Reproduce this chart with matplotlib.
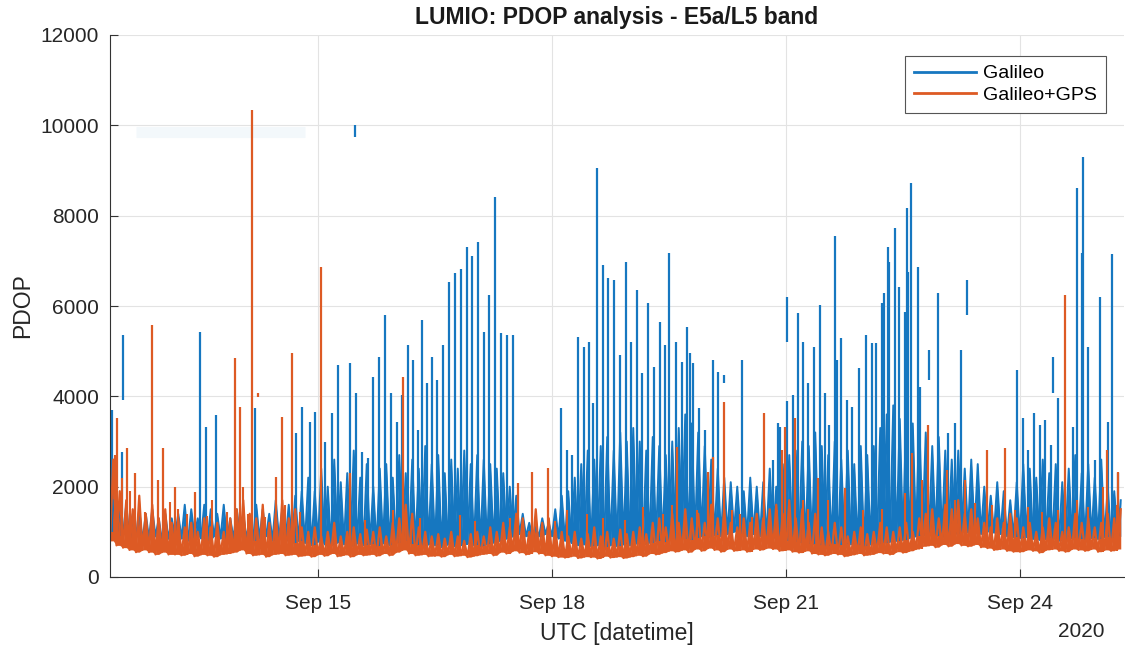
import numpy as np
import matplotlib
matplotlib.use('Agg')
import matplotlib.pyplot as plt
import matplotlib.dates as mdates

plt.rcParams['font.family'] = ['Liberation Sans', 'DejaVu Sans']

# time axis: hours after 2020-09-12 08:00 UTC, dense part kept as 2 h min/max bins
start = np.datetime64('2020-09-12T08:00')
span_hours = 312

# Galileo+GPS dense band (per 2 h bin: lower / upper edge)
gps_lo = [800, 700, 650, 600, 550, 600, 550, 500, 550, 500,
          500, 480, 520, 460, 500, 480, 450, 500, 520, 550,
          600, 520, 480, 500, 450, 500, 520, 480, 500, 460,
          480, 450, 500, 470, 520, 460, 490, 450, 500, 480,
          500, 470, 520, 480, 550, 600, 520, 480, 500, 460,
          470, 450, 500, 460, 480, 440, 470, 500, 520, 480,
          550, 520, 580, 540, 500, 560, 520, 480, 460, 440,
          430, 460, 420, 450, 440, 410, 460, 430, 450, 420,
          450, 480, 460, 520, 500, 540, 580, 560, 600, 550,
          620, 580, 640, 600, 560, 620, 580, 600, 560, 620,
          600, 640, 620, 580, 600, 560, 540, 580, 520, 500,
          480, 520, 500, 460, 490, 520, 480, 500, 540, 520,
          500, 560, 540, 580, 620, 680, 700, 660, 720, 680,
          740, 700, 680, 720, 660, 640, 600, 620, 580, 560,
          560, 600, 580, 540, 600, 620, 580, 560, 620, 600,
          580, 620, 560, 600, 580, 620]
gps_hi = [2600, 1900, 1700, 1500, 1800, 1400, 1600, 1300, 1500, 1200,
          1300, 1100, 1200, 1000, 1300, 1100, 1200, 1000, 1300, 1500,
          1700, 1400, 1300, 1600, 1200, 1400, 1700, 1300, 1500, 1100,
          1000, 1100, 900, 1000, 1200, 900, 1000, 1100, 950, 1050,
          1000, 1100, 900, 1200, 1300, 1600, 1400, 1100, 1000, 900,
          950, 850, 1000, 900, 800, 950, 1000, 900, 1100, 1000,
          1200, 1100, 1400, 1300, 1000, 1500, 1200, 1300, 1100, 1000,
          900, 1000, 850, 950, 1100, 900, 1000, 850, 1050, 950,
          1000, 1100, 950, 1200, 1300, 1100, 1400, 1200, 1500, 1300,
          1400, 1200, 1600, 1300, 1500, 1200, 1100, 1300, 1200, 1400,
          1300, 1500, 1600, 1400, 1700, 1300, 1500, 1200, 1400, 1100,
          1000, 1200, 1100, 900, 1000, 1100, 950, 1000, 1200, 1100,
          1000, 1100, 1200, 1000, 1300, 1400, 1500, 1300, 1600, 1500,
          1700, 1400, 1500, 1300, 1200, 1100, 1300, 1200, 1400, 1300,
          1100, 1200, 1000, 1100, 1300, 1200, 1000, 1100, 1400, 1200,
          1300, 1100, 1200, 1400, 1300, 1500]

# Galileo dense band
gal_lo = [1000, 900, 950, 850, 900, 800, 850, 900, 800, 850,
          900, 850, 800, 900, 850, 800, 900, 850, 800, 850,
          900, 850, 800, 850, 900, 800, 850, 800, 750, 800,
          750, 700, 780, 720, 700, 760, 720, 680, 740, 700,
          720, 680, 740, 700, 760, 800, 740, 700, 680, 720,
          700, 660, 720, 680, 700, 740, 700, 680, 720, 760,
          800, 850, 900, 950, 900, 850, 900, 950, 900, 850,
          800, 750, 700, 720, 680, 700, 660, 700, 680, 720,
          700, 740, 720, 760, 800, 780, 820, 800, 850, 820,
          860, 900, 880, 920, 900, 950, 1000, 950, 900, 950,
          900, 880, 860, 820, 800, 780, 760, 740, 720, 700,
          680, 720, 700, 740, 720, 700, 680, 720, 740, 760,
          780, 800, 820, 860, 900, 920, 950, 900, 880, 920,
          950, 1000, 980, 1000, 950, 1000, 980, 950, 900, 880,
          860, 880, 840, 820, 860, 840, 800, 820, 860, 840,
          820, 860, 840, 880, 860, 900]
gal_hi = [1700, 1500, 1600, 1400, 1500, 1400, 1500, 1300, 1400, 1300,
          1400, 1600, 1500, 1300, 1600, 1500, 1400, 1600, 1300, 1500,
          1400, 1300, 1600, 1500, 1400, 1700, 1500, 1600, 1800, 1900,
          2200, 1900, 2400, 2000, 2600, 2100, 2300, 2800, 2200, 2500,
          2000, 2400, 2500, 2200, 2700, 2300, 2600, 2400, 2900, 2500,
          2700, 2300, 2600, 2400, 2800, 2500, 2700, 2600, 2500, 2400,
          2300, 2000, 1800, 1400, 1200, 1100, 1300, 1200, 1500, 1800,
          1900, 2200, 2500, 2800, 2600, 2900, 3100, 2800, 3200, 3000,
          3300, 3000, 2800, 3100, 2900, 2700, 3000, 3300, 3600, 3400,
          3200, 2900, 2600, 2400, 2200, 2100, 2000, 1900, 2200, 2000,
          2100, 2400, 2000, 2500, 2700, 2800, 3000, 2900, 3200, 2900,
          2700, 3000, 2600, 2800, 2500, 2900, 2700, 2900, 3300, 3600,
          3800, 3500, 3700, 3400, 3500, 3200, 2900, 3100, 2800, 2600,
          2800, 2400, 2600, 2500, 2000, 1800, 2100, 1900, 1700, 2100,
          2500, 2400, 2200, 2600, 2300, 2500, 2100, 2400, 2700, 2300,
          2500, 2200, 2600, 2000, 1900, 1700]

# Galileo peaks: hour, PDOP at top
gal_peak_h = [0.6, 3.7, 27.7, 29.5, 32.6, 44.6, 57.2, 59.1, 61.5, 63.1,
              66.2, 68.3, 70.2, 73.8, 75.7, 77.5, 79.4, 80.9, 82.8, 84.6,
              86.5, 88.3, 89.8, 91.7, 93.2, 94.8, 96.0, 97.5, 99.1, 100.6,
              102.5, 104.3, 106.2, 108.0, 109.8, 111.4, 113.2, 115.1, 116.6, 118.5,
              120.3, 122.2, 124.0, 138.8, 140.6, 142.2, 144.0, 145.8, 147.4, 148.6,
              149.8, 151.7, 153.2, 155.1, 156.9, 158.8, 160.3, 162.2, 163.7, 165.5,
              167.4, 169.2, 170.8, 172.0, 174.2, 176.0, 177.5, 178.5, 179.4, 181.2,
              183.1, 185.5, 187.1, 194.5, 204.0, 205.5, 206.2, 208.3, 210.2, 211.7,
              213.2, 214.8, 216.6, 218.5, 220.0, 221.2, 223.1, 223.7, 224.9, 226.8,
              228.3, 230.5, 232.6, 234.5, 235.7, 237.5, 238.2, 239.4, 239.7, 241.5,
              242.8, 244.6, 245.2, 245.5, 246.5, 248.6, 249.2, 254.8, 257.8, 260.0,
              261.8, 279.1, 280.9, 282.5, 284.3, 286.2, 287.7, 289.5, 291.7, 296.3,
              297.5, 299.1, 299.4, 300.9, 303.1, 304.6, 307.1, 308.3, 310.2]
gal_peak = [3700, 2770, 5420, 3320, 3590, 3740, 3190, 3760, 3430, 3650,
            2990, 3630, 4690, 4740, 4070, 2770, 2630, 4430, 4870, 5800,
            4070, 3430, 4030, 5140, 4800, 3250, 5690, 4300, 4870, 4360,
            5140, 6530, 6730, 6820, 7300, 7110, 7420, 5420, 6240, 8410,
            5400, 5360, 5360, 3740, 2810, 2700, 5310, 5100, 5200, 3850,
            9050, 6910, 6620, 6580, 4910, 6980, 5200, 6350, 4520, 6070,
            4650, 5650, 5140, 7170, 5200, 4760, 5540, 4960, 4740, 3740,
            3250, 4800, 4540, 4800, 2600, 3400, 3320, 3900, 4030, 5840,
            5200, 4290, 5100, 6020, 4070, 3360, 7550, 4800, 5290, 3920,
            3760, 4630, 5360, 5180, 5180, 6060, 6290, 7310, 6980, 7730,
            6420, 5870, 8170, 6750, 8720, 6860, 4210, 6290, 3190, 3400,
            5030, 4580, 3520, 2810, 3630, 3360, 3470, 2920, 3960, 3320,
            8610, 7170, 9300, 5100, 2600, 6200, 3430, 7150, 2300]

# Galileo pieces that float above the band: hour, bottom, top
gal_piece_h = [4.0, 75.4, 188.9, 208.3, 252.0, 263.7, 290.2]
gal_piece_lo = [3920, 9740, 4300, 5200, 4360, 5800, 4070]
gal_piece_hi = [5360, 10000, 4470, 6200, 5030, 6580, 4870]

# faint Galileo trace near 10000 on Sep 12-14
gal_faint_h = [8.0, 60.0]
gal_faint = [9850, 9850]

# Galileo+GPS peaks
gps_peak_h = [2.2, 5.2, 7.7, 12.9, 14.8, 16.3, 20.0, 26.2, 38.5, 40.0,
              43.7, 51.1, 52.9, 56.0, 64.9, 73.8, 90.2, 125.5, 129.8, 134.8,
              174.5, 184.0, 185.5, 188.9, 201.2, 206.8, 207.7, 210.8, 217.8, 226.2,
              246.8, 251.7, 257.5, 269.8, 275.4, 293.8, 306.8, 310.2]
gps_peak = [3520, 2860, 2300, 5580, 2150, 2860, 2000, 1880, 4850, 3760,
            10340, 2210, 3540, 4960, 6860, 2300, 4430, 2080, 2330, 2410,
            2880, 2330, 2660, 3870, 3630, 2810, 3320, 3520, 2190, 1970,
            2750, 3360, 2370, 2810, 2860, 6240, 2810, 2330]
# smaller Galileo+GPS bumps just above the band
gps_bump_h = [1.5, 3.7, 6.2, 10.8, 18.5, 20.9, 23.7, 29.8, 31.4, 36.0,
              40.9, 42.5, 47.7, 53.8, 58.5, 78.5, 87.1, 95.4, 107.7, 112.3,
              123.1, 136.9, 140.6, 146.8, 151.7, 158.5, 164.0, 170.2, 172.9, 180.6,
              191.4, 193.8, 197.5, 205.2, 213.2, 214.8, 220.9, 231.7, 237.5, 244.6,
              249.8, 260.0, 263.1, 266.2, 271.4, 278.5, 282.5, 286.8, 291.7, 297.5,
              300.9, 305.5, 309.8]
gps_bump = [2700, 2200, 1900, 1450, 1660, 1500, 1400, 1350, 1700, 1450,
            2000, 1400, 1320, 1600, 1450, 1260, 1480, 1300, 1370, 1250,
            1300, 1250, 1480, 1400, 1300, 1260, 1550, 1400, 1600, 1480,
            1480, 1400, 1330, 1480, 1700, 1500, 1700, 1480, 1500, 1850,
            2150, 1700, 2150, 1630, 1600, 1480, 1550, 1450, 1480, 1700,
            1550, 2000, 1600]
gps_piece_h = [45.5]
gps_piece_lo = [3980]
gps_piece_hi = [4080]

blue = '#1677c0'
orange = '#dd5a24'


def to_time(hours):
    return start + (np.asarray(hours, dtype=float) * 60).astype('timedelta64[m]')


def band(lo, hi):
    # walk through each bin's low and high edge so the line fills the band
    h = np.arange(2 * len(lo), dtype=float)
    y = np.column_stack([lo, hi]).ravel()
    return to_time(h), y, np.repeat(lo, 2)


def bottoms(hours, lo):
    lo = np.asarray(lo)
    idx = np.clip((np.asarray(hours) // 2).astype(int), 0, len(lo) - 1)
    return lo[idx]


fig = plt.figure(figsize=(11.25, 6.45), dpi=100)
ax = fig.add_axes([110 / 1125, 1 - 577 / 645, 1014 / 1125, 542 / 645])

t, y, base = band(gal_lo, gal_hi)
ax.fill_between(t, base, y, color=blue, lw=0)
ax.plot(t, y, color=blue, lw=1.4, label='Galileo')
ax.vlines(to_time(gal_peak_h), bottoms(gal_peak_h, gal_lo), gal_peak, color=blue, lw=1.6)
ax.vlines(to_time(gal_piece_h), gal_piece_lo, gal_piece_hi, color=blue, lw=1.6)
ax.plot(to_time(gal_faint_h), gal_faint, color=blue, lw=8, alpha=0.05, solid_capstyle='butt')

t, y, base = band(gps_lo, gps_hi)
ax.fill_between(t, base, y, color=orange, lw=0)
ax.plot(t, y, color=orange, lw=1.6, label='Galileo+GPS')
ax.vlines(to_time(gps_peak_h), bottoms(gps_peak_h, gps_lo), gps_peak, color=orange, lw=1.6)
ax.vlines(to_time(gps_bump_h), bottoms(gps_bump_h, gps_lo), gps_bump, color=orange, lw=1.5)
ax.vlines(to_time(gps_piece_h), gps_piece_lo, gps_piece_hi, color=orange, lw=1.6)

ax.set_xlim(to_time(0), to_time(span_hours))
ax.set_ylim(0, 12000)
ax.set_yticks(range(0, 12001, 2000))
ax.set_xticks([np.datetime64('2020-09-15'), np.datetime64('2020-09-18'),
               np.datetime64('2020-09-21'), np.datetime64('2020-09-24')])
ax.xaxis.set_major_formatter(mdates.DateFormatter('%b %d'))

ax.grid(True, color='#e3e3e3', lw=0.8)
ax.set_axisbelow(True)
for side in ['top', 'right']:
    ax.spines[side].set_visible(False)
for side in ['left', 'bottom']:
    ax.spines[side].set_color('#333333')
    ax.spines[side].set_linewidth(0.8)
ax.tick_params(direction='in', length=6, width=0.8, color='#333333',
               labelsize=15, labelcolor='#262626')
ax.tick_params(axis='x', pad=12)
ax.tick_params(axis='y', pad=8)

ax.set_title('LUMIO: PDOP analysis - E5a/L5 band', fontsize=16.5,
             fontweight='bold', pad=8, color='#1a1a1a')
ax.set_xlabel('UTC [datetime]', fontsize=16.5, labelpad=7, color='#262626')
ax.set_ylabel('PDOP', fontsize=16.5, labelpad=4.5, color='#262626')
ax.text(0.981, -0.101, '2020', transform=ax.transAxes, ha='right', va='center',
        fontsize=15, color='#262626')

leg = ax.legend(loc='upper right', bbox_to_anchor=(0.982, 0.961), borderaxespad=0,
                fontsize=14, handlelength=3.2, handletextpad=0.35, fancybox=False,
                framealpha=1, edgecolor='#555555', borderpad=0.45, labelspacing=0.2)
leg.get_frame().set_linewidth(0.8)
for line in leg.get_lines():
    line.set_linewidth(2)

fig.savefig('out.png', dpi=100)
